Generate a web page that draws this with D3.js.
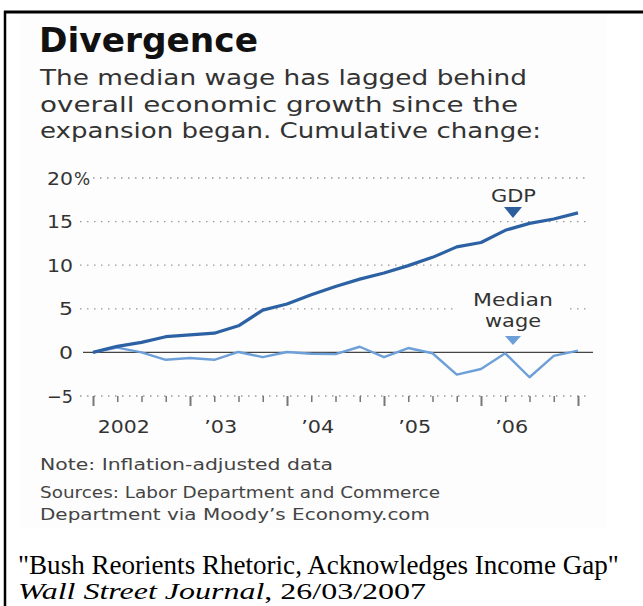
<!DOCTYPE html>
<html><head><meta charset="utf-8">
<script src="https://cdn.jsdelivr.net/npm/d3@7"></script>
<style>
html,body{margin:0;padding:0;background:#fff;}
svg{display:block;}
</style></head>
<body>
<script>
// Quarterly data, 2001 Q4 .. 2006 Q4 (cumulative % change)
const quarters = ["01Q4","02Q1","02Q2","02Q3","02Q4","03Q1","03Q2","03Q3","03Q4","04Q1","04Q2","04Q3","04Q4","05Q1","05Q2","05Q3","05Q4","06Q1","06Q2","06Q3","06Q4"];
const gdp  = [0, 0.7, 1.15, 1.8, 2.0, 2.2, 3.05, 4.85, 5.55, 6.6, 7.55, 8.4, 9.1, 9.95, 10.9, 12.1, 12.6, 14.0, 14.8, 15.3, 16.0];
const wage = [0, 0.55, 0.0, -0.85, -0.65, -0.85, 0.05, -0.55, 0.05, -0.15, -0.2, 0.65, -0.55, 0.5, -0.1, -2.55, -1.9, -0.1, -2.85, -0.4, 0.2];
const yTicks = [-5, 0, 5, 10, 15, 20];
const yearLabelIdx = [1, 5, 9, 13, 17];
const yearLabels = ["2002", "\u201903", "\u201904", "\u201905", "\u201906"];

const W = 643, H = 606;
const svg = d3.select("body").append("svg").attr("width", W).attr("height", H);
const SANS = "'DejaVu Sans', Verdana, sans-serif";
const SERIF = "'Liberation Serif', 'Times New Roman', serif";
const PANEL = "#fdfdfd";

// stretch a text's glyphs to a target width (keeps font size / height)
function stretch(sel, target) {
  sel.attr("textLength", target).attr("lengthAdjust", "spacingAndGlyphs");
}
// scale font size so a text reaches a target width
function fit(sel, target) {
  const fs = parseFloat(sel.attr("font-size"));
  const w = sel.node().getComputedTextLength();
  const nfs = fs * target / w;
  sel.attr("font-size", nfs.toFixed(2));
  return nfs;
}

// panel background
svg.append("rect").attr("x", 20).attr("y", 14).attr("width", 587).attr("height", 514).attr("fill", PANEL);
// frame
svg.append("line").attr("x1", 4).attr("x2", W).attr("y1", 12).attr("y2", 12).attr("stroke", "#000").attr("stroke-width", 3);
svg.append("line").attr("x1", 5).attr("x2", 5).attr("y1", 11).attr("y2", H).attr("stroke", "#000").attr("stroke-width", 2.5);

// Title and subtitle
const title = svg.append("text").attr("x", 39).attr("y", 52).attr("font-family", SANS).attr("font-weight", "bold")
  .attr("font-size", 32).attr("fill", "#111").text("Divergence");
fit(title, 219);

const subLines = ["The median wage has lagged behind", "overall economic growth since the", "expansion began. Cumulative change:"];
const subY = [85, 112, 138];
const subW = [487, 478, 501];
subLines.forEach((t, i) => {
  const s = svg.append("text").attr("x", 40).attr("y", subY[i]).attr("font-family", SANS)
    .attr("font-size", 22).attr("fill", "#333").text(t);
  stretch(s, subW[i]);
});

// Scales
const x = d3.scaleLinear().domain([0, quarters.length - 1]).range([93, 578]);
const y = d3.scaleLinear().domain([-5, 20]).range([396, 178]);

const g = svg.append("g");

// gridlines (dotted)
yTicks.filter(v => v !== 0).forEach(v => {
  g.append("line").attr("x1", v === 20 ? 93 : 80).attr("x2", 590).attr("y1", y(v)).attr("y2", y(v))
    .attr("stroke", "#999").attr("stroke-width", 1.3).attr("stroke-dasharray", "1.5,5.5");
});

// y labels
yTicks.forEach(v => {
  const t = g.append("text").attr("x", 73).attr("y", y(v) + 6.5).attr("text-anchor", "end")
    .attr("font-family", SANS).attr("font-size", 18).attr("fill", "#333")
    .text(v < 0 ? "\u2212" + Math.abs(v) : String(v));
  const n = t.text().length;
  t.attr("textLength", n === 1 ? 14 : 26).attr("lengthAdjust", "spacingAndGlyphs");
  if (v === 20) {
    g.append("text").attr("x", 74).attr("y", y(v) + 6.5).attr("font-family", SANS).attr("font-size", 17)
      .attr("fill", "#333").text("%");
  }
});

// x axis (ticks hanging from the -5 line)
const xAxis = d3.axisBottom(x).tickValues(d3.range(0, quarters.length))
  .tickSize(6).tickSizeOuter(0)
  .tickFormat(i => { const k = yearLabelIdx.indexOf(i); return k >= 0 ? yearLabels[k] : ""; });
const ax = g.append("g").attr("transform", `translate(0,${y(-5)})`).call(xAxis);
ax.select(".domain").remove();
ax.selectAll(".tick line").attr("stroke", "#777")
  .attr("stroke-width", (d) => d % 4 === 0 ? 2 : 1.5)
  .attr("y2", (d) => d % 4 === 0 ? 10 : 6);
ax.selectAll(".tick text").attr("font-family", SANS).attr("font-size", 18).attr("fill", "#333")
  .attr("dx", 6).attr("y", 24).attr("dy", "0.71em")
  .each(function (d) {
    const s = d3.select(this);
    if (s.text()) s.attr("textLength", s.text().length === 4 ? 52 : 33).attr("lengthAdjust", "spacingAndGlyphs");
  });

// zero line
g.append("line").attr("x1", 83).attr("x2", 593).attr("y1", y(0)).attr("y2", y(0))
  .attr("stroke", "#444").attr("stroke-width", 1.3);

// annotation background for "Median wage" (breaks 5% gridline)
g.append("rect").attr("x", 456).attr("y", y(5) - 4).attr("width", 110).attr("height", 8).attr("fill", PANEL);

// lines
const line = d3.line().x((d, i) => x(i)).y(d => y(d)).curve(d3.curveLinear);
g.append("path").datum(wage).attr("d", line).attr("fill", "none").attr("stroke", "#6d9fd8")
  .attr("stroke-width", 2.4).attr("stroke-linejoin", "round");
g.append("path").datum(gdp).attr("d", line).attr("fill", "none").attr("stroke", "#2c62a3")
  .attr("stroke-width", 3.2).attr("stroke-linejoin", "round");

// annotations
const ax0 = 513;
const gl = g.append("text").attr("x", 491).attr("y", 202).attr("font-family", SANS)
  .attr("font-size", 18).attr("fill", "#333").text("GDP");
stretch(gl, 45);
g.append("path").attr("d", `M${ax0 - 9},207 L${ax0 + 9},207 L${ax0},218 Z`).attr("fill", "#2c5f9c");
const m1 = g.append("text").attr("x", 473).attr("y", 306).attr("font-family", SANS)
  .attr("font-size", 18).attr("fill", "#333").text("Median");
stretch(m1, 80);
const m2 = g.append("text").attr("x", 485).attr("y", 327).attr("font-family", SANS)
  .attr("font-size", 18).attr("fill", "#333").text("wage");
stretch(m2, 56);
g.append("path").attr("d", `M${ax0 - 8},336 L${ax0 + 8},336 L${ax0},345 Z`).attr("fill", "#6d9fd8");

// notes
const note = svg.append("text").attr("x", 40).attr("y", 470).attr("font-family", SANS).attr("font-size", 15)
  .attr("fill", "#444").text("Note: Inflation-adjusted data");
stretch(note, 293);
const src1 = svg.append("text").attr("x", 40).attr("y", 498).attr("font-family", SANS).attr("font-size", 15)
  .attr("fill", "#444").text("Sources: Labor Department and Commerce");
stretch(src1, 400);
const src2 = svg.append("text").attr("x", 40).attr("y", 520).attr("font-family", SANS).attr("font-size", 15)
  .attr("fill", "#444").text("Department via Moody\u2019s Economy.com");
stretch(src2, 390);

// caption
const cap1 = svg.append("text").attr("x", 18).attr("y", 574).attr("font-family", SERIF).attr("font-size", 22.5)
  .attr("fill", "#000").text("\"Bush Reorients Rhetoric, Acknowledges Income Gap\"");
fit(cap1, 601);
const cap2 = svg.append("text").attr("x", 18).attr("y", 599).attr("font-family", SERIF).attr("font-size", 24).attr("fill", "#000");
cap2.append("tspan").attr("font-style", "italic").text("Wall Street Journal");
cap2.append("tspan").text(", 26/03/2007");
stretch(cap2, 408);
</script>
</body></html>
